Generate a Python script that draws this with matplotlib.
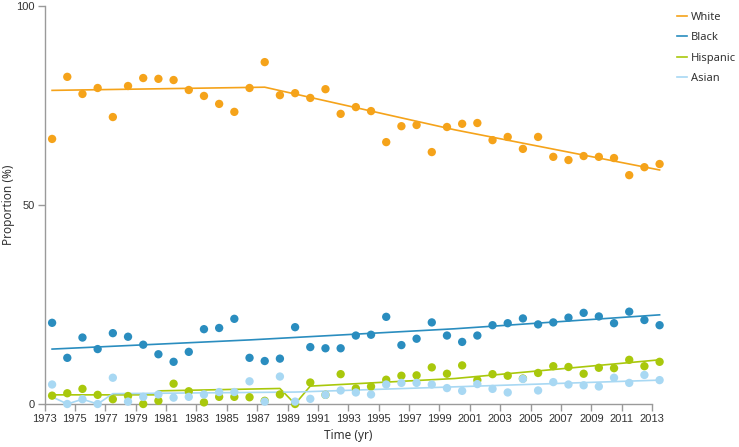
import matplotlib
matplotlib.use("Agg")
import matplotlib.pyplot as plt
import numpy as np

years = list(range(1973, 2014))

white = [66.6, 82.2, 77.9, 79.4, 72.1, 79.9, 81.9, 81.7, 81.4, 78.9,
         77.4, 75.4, 73.4, 79.4, 85.9, 77.6, 78.1, 76.9, 79.1, 72.9,
         74.6, 73.6, 65.8, 69.8, 70.1, 63.3, 69.6, 70.4, 70.6, 66.3,
         67.1, 64.1, 67.1, 62.1, 61.3, 62.3, 62.1, 61.8, 57.5, 59.5, 60.3]
black = [20.4, 11.6, 16.7, 13.8, 17.8, 16.9, 14.9, 12.5, 10.6, 13.1,
         18.8, 19.1, 21.4, 11.6, 10.8, 11.4, 19.3, 14.3, 14.0, 14.0,
         17.2, 17.4, 21.9, 14.8, 16.4, 20.5, 17.2, 15.6, 17.2, 19.8,
         20.3, 21.5, 20.0, 20.5, 21.7, 22.9, 22.0, 20.3, 23.2, 21.1, 19.8]
hispanic = [2.1, 2.7, 3.8, 2.3, 1.2, 2.0, 0.0, 0.8, 5.1, 3.2,
            0.4, 1.8, 1.8, 1.7, 0.8, 2.4, 0.0, 5.4, 2.3, 7.5,
            3.9, 4.4, 6.1, 7.1, 7.2, 9.2, 7.6, 9.7, 6.0, 7.5,
            7.1, 6.4, 7.8, 9.5, 9.3, 7.6, 9.1, 9.0, 11.1, 9.5, 10.6]
asian = [4.9, 0.0, 1.2, 0.0, 6.6, 0.6, 1.8, 2.4, 1.6, 1.8,
         2.4, 3.0, 3.0, 5.7, 0.6, 6.9, 0.6, 1.3, 2.3, 3.4,
         2.9, 2.4, 4.9, 5.3, 5.3, 4.9, 4.0, 3.3, 5.0, 3.8,
         2.9, 6.3, 3.4, 5.5, 4.9, 4.7, 4.4, 6.6, 5.3, 7.3, 6.0]

# joinpoint trend lines (knots and fitted values)
white_fit_t = [1973.5, 1987.5, 2000.0, 2013.5]
white_fit_v = [78.8, 79.6, 68.9, 58.8]
black_fit_t = [1973.5, 1986.5, 2000.0, 2013.5]
black_fit_v = [13.8, 16.1, 18.9, 22.4]
hisp_fit_t = [1973.5, 1980.4, 1980.5, 1988.5, 1989.5, 1990.5, 2000.0, 2013.5]
hisp_fit_v = [2.3, 2.3, 3.3, 3.9, 0.0, 4.5, 6.4, 11.1]
asian_fit_t = [1973.5, 1974.5, 1975.5, 1976.5, 1977.5, 1989.5, 2013.5]
asian_fit_v = [1.8, 0.0, 1.2, 0.0, 2.6, 3.0, 6.0]

labels = ["White", "Black", "Hispanic", "Asian"]
colors = ["#F5A31A", "#2A8DBF", "#A9C80C", "#A8D8F3"]

plt.rcParams['font.family'] = ['Liberation Sans', 'DejaVu Sans']
lab_font = ['Noto Sans', 'DejaVu Sans']

fig = plt.figure(figsize=(7.39, 4.47), dpi=100)
ax = fig.add_axes([44.5/739, 43/447, (652-44.5)/739, (404-6)/447])

x = np.array(years) + 0.5
series = [white, black, hispanic, asian]
fits = [(white_fit_t, white_fit_v), (black_fit_t, black_fit_v),
        (hisp_fit_t, hisp_fit_v), (asian_fit_t, asian_fit_v)]
handles = []
for s, (ft, fv), c, lab in zip(series, fits, colors, labels):
    ax.scatter(x, s, s=36, color=c, edgecolors='none', clip_on=False, zorder=3)
    h, = ax.plot(ft, fv, color=c, lw=1.2, clip_on=False, zorder=2, label=lab)
    handles.append(h)

ax.set_xlim(1973, 2013)
ax.set_ylim(0, 100)
ax.set_xticks(range(1973, 2014, 2))
ax.set_yticks([0, 50, 100])
for sp in ['top', 'right']:
    ax.spines[sp].set_visible(False)
for sp in ['left', 'bottom']:
    ax.spines[sp].set_color('#9a9a9a')
    ax.spines[sp].set_linewidth(1.0)
ax.tick_params(axis='both', colors='#9a9a9a', length=5, width=1.0,
               labelcolor='#333333', labelsize=8, pad=2)
ax.set_xlabel("Time (yr)", family=lab_font, fontsize=8.5,
              color='#333333', labelpad=4)
ax.set_ylabel("Proportion (%)", family=lab_font, fontsize=8.5,
              color='#333333')
ax.yaxis.set_label_coords((15 - 44.5) / 607.5, 0.5)

leg = fig.legend(handles=handles, loc='upper left', bbox_to_anchor=(675/739, 1 - 9.5/447),
                 frameon=False, handlelength=0.9, handletextpad=0.35, borderaxespad=0,
                 borderpad=0.2, labelspacing=0.85, prop={'family': lab_font, 'size': 8})
for t in leg.get_texts():
    t.set_color('#333333')

fig.savefig("out.png", dpi=100)
